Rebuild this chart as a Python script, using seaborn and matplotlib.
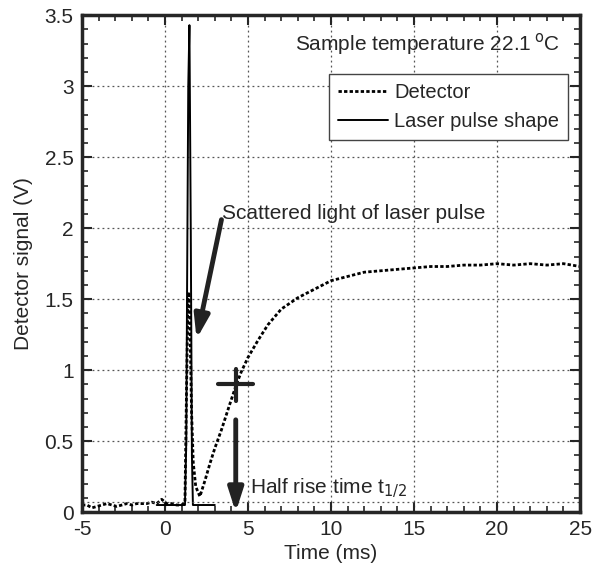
import numpy as np
import pandas as pd
import seaborn as sns
import matplotlib.pyplot as plt
from matplotlib.ticker import MultipleLocator
from matplotlib.lines import Line2D

# detector trace
det_t = [-5.0, -4.7, -4.4, -4.1, -3.8, -3.5, -3.2, -2.9, -2.6, -2.3, -2.0, -1.7, -1.4,
         -1.1, -0.8, -0.5, -0.2, 0.1, 0.4, 0.7, 1.0, 1.2, 1.3, 1.38, 1.45, 1.52, 1.6,
         1.7, 1.85, 2.1, 2.4, 2.7, 3.0, 3.4, 3.9, 4.3, 4.6, 5.0, 5.6, 6.2, 7.0, 7.5,
         8.0, 8.5, 9.0, 9.5, 10.0, 11.0, 12.0, 13.0, 14.0, 15.0, 16.0, 17.0,
         18.0, 19.0, 20.0, 21.0, 22.0, 23.0, 24.0, 25.0]
det_v = [0.05, 0.05, 0.03, 0.04, 0.05, 0.06, 0.05, 0.04, 0.05, 0.06, 0.05, 0.06, 0.06,
         0.06, 0.07, 0.06, 0.09, 0.06, 0.06, 0.05, 0.05, 0.07, 0.9, 1.5, 1.55, 1.2, 0.7,
         0.35, 0.18, 0.11, 0.22, 0.34, 0.45, 0.58, 0.76, 0.9, 0.99, 1.09, 1.21, 1.32, 1.43,
         1.47, 1.51, 1.54, 1.57, 1.60, 1.63, 1.66, 1.69, 1.70, 1.71, 1.72, 1.73, 1.73,
         1.74, 1.74, 1.75, 1.74, 1.75, 1.74, 1.75, 1.73]

# laser pulse shape
las_t = [-0.5, 1.2, 1.28, 1.33, 1.4, 1.47, 1.55, 1.62, 1.68, 3.0]
las_v = [0.05, 0.05, 0.5, 1.6, 3.0, 3.43, 2.0, 0.4, 0.05, 0.05]

baseline = 0.07

df = pd.concat([
    pd.DataFrame({"t": det_t, "v": det_v, "s": "Detector"}),
    pd.DataFrame({"t": las_t, "v": las_v, "s": "Laser pulse shape"}),
])

sns.set_style("ticks")
plt.rcParams['font.family'] = ['Liberation Sans', 'DejaVu Sans']
plt.rcParams['axes.unicode_minus'] = False

fig = plt.figure(figsize=(6.03, 5.64), dpi=100)
ax = fig.add_axes([0.136, 0.092, 0.826, 0.881])

sns.lineplot(data=df, x="t", y="v", hue="s", style="s",
             palette={"Detector": "black", "Laser pulse shape": "black"},
             dashes={"Detector": (1.2, 0.8), "Laser pulse shape": ""},
             linewidth=2.0, sort=False, estimator=None, ax=ax, legend=False)
ax.lines[1].set_linewidth(1.4)

ax.set_xlim(-5, 25)
ax.set_ylim(0, 3.5)
ax.xaxis.set_major_locator(MultipleLocator(5))
ax.xaxis.set_minor_locator(MultipleLocator(1))
ax.yaxis.set_minor_locator(MultipleLocator(0.1))
ax.set_yticks(np.arange(0, 3.51, 0.5))
ax.set_yticklabels(["0", "0.5", "1", "1.5", "2", "2.5", "3", "3.5"])
ax.tick_params(which="both", direction="in", top=True, right=True, labelsize=15)
ax.tick_params(which="major", length=7, width=1.5, pad=6)
ax.tick_params(which="minor", length=4, width=1.2)
grid_ls = (0, (1.5, 2.5))
ax.grid(True, which="major", linestyle=grid_ls, color="#555555", linewidth=0.9)
ax.axhline(baseline, linestyle=grid_ls, color="#555555", linewidth=0.9)
for sp in ax.spines.values():
    sp.set_linewidth(2.5)

ax.set_xlabel("Time (ms)", fontsize=15, labelpad=3)
ax.set_ylabel("Detector signal (V)", fontsize=15, labelpad=8)

# legend
h = [Line2D([], [], color="black", lw=2.0, dashes=(1.2, 0.8)),
     Line2D([], [], color="black", lw=1.4)]
leg = ax.legend(h, ["Detector", "Laser pulse shape"], loc="upper right",
                bbox_to_anchor=(0.976, 0.882), fontsize=14.5, fancybox=False,
                framealpha=1, edgecolor="#444444", handlelength=2.5,
                borderpad=0.45, labelspacing=0.5, handletextpad=0.3,
                borderaxespad=0)
leg.get_frame().set_linewidth(1.0)

ax.text(23.8, 3.30, "Sample temperature 22.1$\\,^{\\mathrm{o}}$C", ha="right",
        va="center", fontsize=15)
ax.text(3.45, 2.1, "Scattered light of laser pulse", ha="left", va="center", fontsize=15)
ax.text(5.1, 0.17, "Half rise time t$_{1/2}$", ha="left", va="center", fontsize=15)

# annotation arrows
ax.annotate("", xy=(1.9, 1.22), xytext=(3.4, 2.06),
            arrowprops=dict(arrowstyle="-|>,head_width=0.45,head_length=1.4",
                            color="#222222", lw=3.5, shrinkA=0, shrinkB=0))
ax.annotate("", xy=(4.26, 0.0), xytext=(4.26, 0.65),
            arrowprops=dict(arrowstyle="-|>,head_width=0.45,head_length=1.4",
                            color="#222222", lw=3.5, shrinkA=0, shrinkB=0))
# cross at half rise point
ax.plot([3.22, 5.3], [0.90, 0.90], color="#222222", lw=3)
ax.plot([4.26, 4.26], [0.78, 1.01], color="#222222", lw=3)

fig.savefig("out.png", dpi=100)
